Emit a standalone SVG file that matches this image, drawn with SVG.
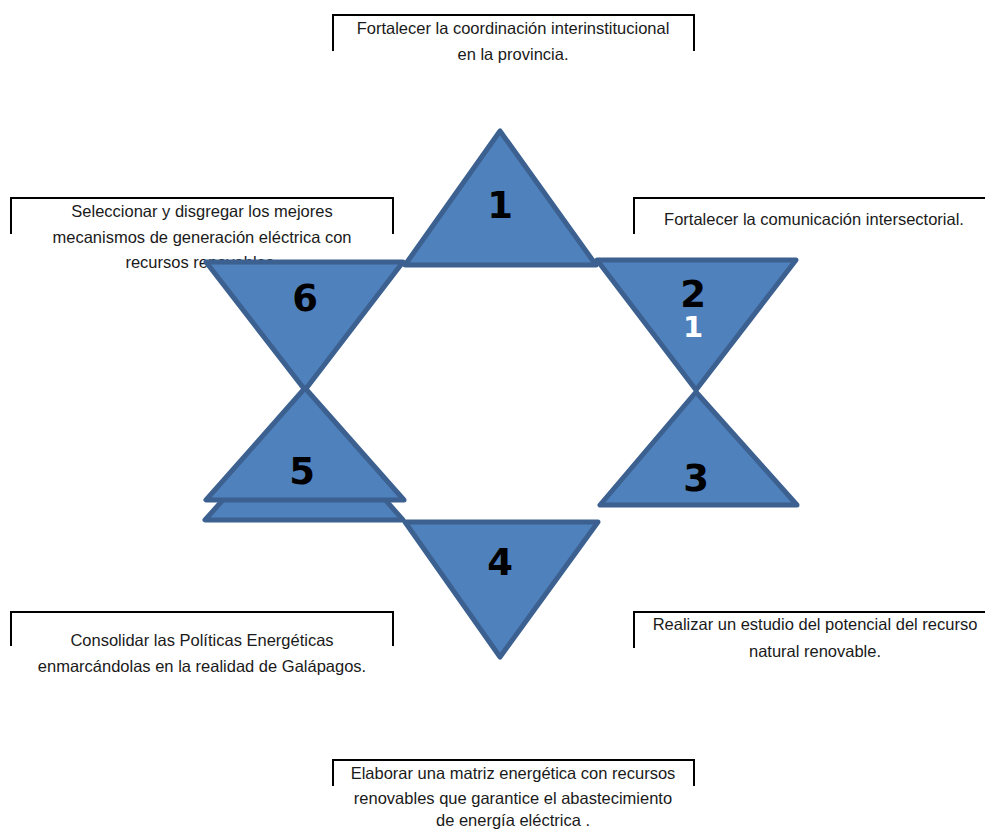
<svg xmlns="http://www.w3.org/2000/svg" width="985" height="831" viewBox="0 0 985 831">
  <style>
    .box { fill: none; stroke: #000; stroke-width: 2; }
    .lbl { font-family: "Liberation Sans", Arial, sans-serif; font-size: 16.5px; fill: #1a1a1a; text-anchor: middle; }
    .tri { fill: #4f81bd; stroke: #3c6190; stroke-width: 5; stroke-linejoin: round; }
    .num { font-family: "DejaVu Sans", sans-serif; font-weight: bold; font-size: 37px; fill: #000; text-anchor: middle; }
  </style>

  <!-- objective boxes (open at the bottom) -->
  <g id="obj-top">
    <polyline class="box" points="333,51 333,15 694,15 694,51"/>
    <text class="lbl" x="513" y="34">Fortalecer la coordinación interinstitucional</text>
    <text class="lbl" x="513" y="60">en la provincia.</text>
  </g>
  <g id="obj-upper-left">
    <polyline class="box" points="11,234 11,198 393,198 393,234"/>
    <text class="lbl" x="202" y="217">Seleccionar y disgregar los mejores</text>
    <text class="lbl" x="202" y="243">mecanismos de generación eléctrica con</text>
    <text class="lbl" x="202" y="268">recursos renovables.</text>
  </g>
  <g id="obj-upper-right">
    <polyline class="box" points="634,234 634,198 985,198"/>
    <text class="lbl" x="814" y="225">Fortalecer la comunicación intersectorial.</text>
  </g>
  <g id="obj-lower-left">
    <polyline class="box" points="11,646 11,612 393,612 393,646"/>
    <text class="lbl" x="202" y="646">Consolidar las Políticas Energéticas</text>
    <text class="lbl" x="202" y="672">enmarcándolas en la realidad de Galápagos.</text>
  </g>
  <g id="obj-lower-right">
    <polyline class="box" points="634,648 634,612 985,612"/>
    <text class="lbl" x="815" y="630">Realizar un estudio del potencial del recurso</text>
    <text class="lbl" x="815" y="657">natural renovable.</text>
  </g>
  <g id="obj-bottom">
    <polyline class="box" points="333,786 333,760 694,760 694,786"/>
    <text class="lbl" x="513" y="779">Elaborar una matriz energética con recursos</text>
    <text class="lbl" x="513" y="804">renovables que garantice el abastecimiento</text>
    <text class="lbl" x="513" y="826">de energía eléctrica .</text>
  </g>

  <!-- star made of six triangles -->
  <g id="tri-5-shadow">
    <polygon class="tri" points="305,408 205,520 403,520"/>
  </g>
  <g id="tri-6">
    <polygon class="tri" points="206,262 403,262 305,390"/>
    <text class="num" x="305" y="311">6</text>
  </g>
  <g id="tri-5">
    <polygon class="tri" points="305,388 206,500 404,500"/>
    <text class="num" x="302" y="484">5</text>
  </g>
  <g id="tri-1">
    <polygon class="tri" points="500,131 405,265 596,265"/>
    <text class="num" x="500" y="218">1</text>
  </g>
  <g id="tri-2">
    <polygon class="tri" points="597,260 796,260 696,390"/>
    <text class="num" x="693" y="307">2</text>
    <text class="num" x="693" y="337" style="fill:#fff;font-size:29px">1</text>
  </g>
  <g id="tri-3">
    <polygon class="tri" points="696,392 600,505 797,505"/>
    <text class="num" x="696" y="491">3</text>
  </g>
  <g id="tri-4">
    <polygon class="tri" points="405,522 598,522 500,657"/>
    <text class="num" x="500" y="575">4</text>
  </g>
</svg>
